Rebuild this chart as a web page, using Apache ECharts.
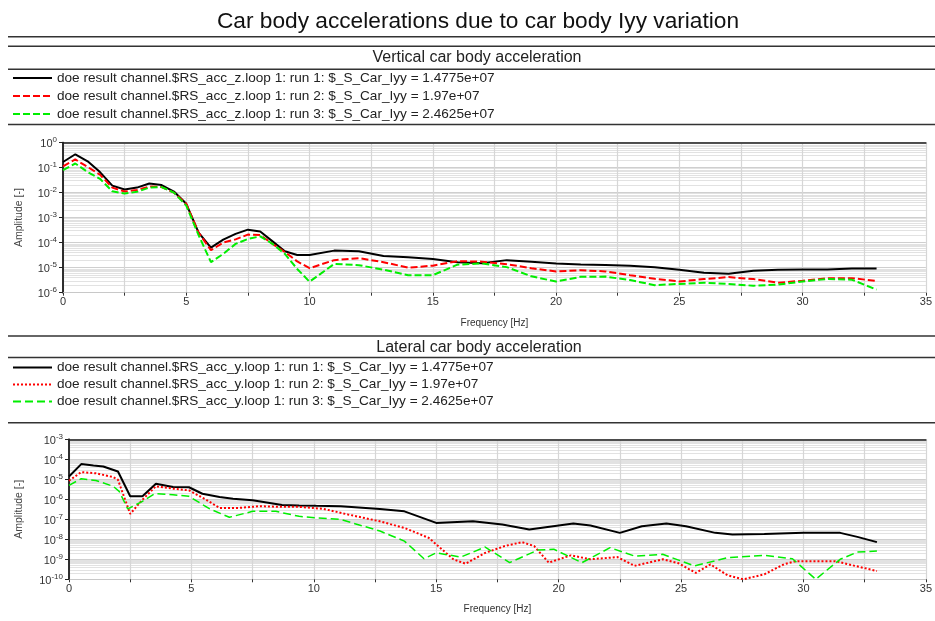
<!DOCTYPE html>
<html>
<head>
<meta charset="utf-8">
<script src="https://cdn.jsdelivr.net/npm/echarts@6/dist/echarts.min.js"></script>
<style>
  html, body { margin: 0; padding: 0; background: #fff; }
  #chart { width: 935px; height: 621px; }
</style>
</head>
<body>
<div id="chart"></div>
<script>
// ---- texts ----
const mainTitle = 'Car body accelerations due to car body Iyy variation';
const vertTitle = 'Vertical car body acceleration';
const latTitle = 'Lateral car body acceleration';
const xName = 'Frequency [Hz]';
const yName = 'Amplitude [-]';

const vertNames = [
  'doe result channel.$RS_acc_z.loop 1: run 1: $_S_Car_Iyy = 1.4775e+07',
  'doe result channel.$RS_acc_z.loop 1: run 2: $_S_Car_Iyy = 1.97e+07',
  'doe result channel.$RS_acc_z.loop 1: run 3: $_S_Car_Iyy = 2.4625e+07'
];
const latNames = [
  'doe result channel.$RS_acc_y.loop 1: run 1: $_S_Car_Iyy = 1.4775e+07',
  'doe result channel.$RS_acc_y.loop 1: run 2: $_S_Car_Iyy = 1.97e+07',
  'doe result channel.$RS_acc_y.loop 1: run 3: $_S_Car_Iyy = 2.4625e+07'
];

// ---- vertical acceleration spectra (shared frequency grid, Hz) ----
const freqVert = [0, 0.5, 1, 1.5, 2, 2.5, 3, 3.5, 4, 4.5, 5, 5.5, 6, 6.5, 7, 7.5, 8, 8.5, 9, 9.5, 10,
  11, 12, 13, 14, 15, 16, 17, 18, 19, 20, 21, 22, 23, 24, 25, 26, 27, 28, 29, 30, 31, 32, 33];
const vertRun1 = [1.66e-1, 3.39e-1, 1.78e-1, 6.6e-2, 1.9e-2, 1.32e-2, 1.58e-2, 2.29e-2, 2.0e-2, 1.1e-2, 3.55e-3,
  2.5e-4, 6.3e-5, 1.32e-4, 2.24e-4, 3.3e-4, 2.8e-4, 1.12e-4, 4.5e-5, 3.2e-5, 3.2e-5,
  4.8e-5, 4.5e-5, 2.95e-5, 2.6e-5, 2.24e-5, 1.66e-5, 1.5e-5, 2.0e-5, 1.74e-5, 1.48e-5, 1.35e-5, 1.29e-5,
  1.2e-5, 1.05e-5, 8.3e-6, 6.3e-6, 5.75e-6, 7.6e-6, 8.3e-6, 8.5e-6, 8.5e-6, 9.3e-6, 9.3e-6];
const vertRun2 = [1.12e-1, 2.1e-1, 1.05e-1, 5.2e-2, 1.58e-2, 1.1e-2, 1.26e-2, 1.74e-2, 1.66e-2, 1.0e-2, 3.55e-3,
  2.5e-4, 5.0e-5, 1.0e-4, 1.35e-4, 2.1e-4, 2.0e-4, 8.9e-5, 4.2e-5, 1.78e-5, 9.5e-6,
  2.0e-5, 2.4e-5, 1.66e-5, 1.0e-5, 1.2e-5, 1.82e-5, 1.74e-5, 1.38e-5, 9.5e-6, 7.1e-6, 7.9e-6, 7.1e-6,
  5.0e-6, 3.6e-6, 2.8e-6, 3.5e-6, 4.2e-6, 3.5e-6, 2.5e-6, 3.0e-6, 3.8e-6, 3.8e-6, 2.95e-6];
const vertRun3 = [7.9e-2, 1.45e-1, 6.6e-2, 3.55e-2, 1.12e-2, 9.1e-3, 1.07e-2, 1.58e-2, 1.66e-2, 1.0e-2, 3.0e-3,
  2.0e-4, 1.66e-5, 3.55e-5, 8.9e-5, 1.41e-4, 1.78e-4, 8.9e-5, 3.55e-5, 8.9e-6, 2.75e-6,
  1.41e-5, 1.26e-5, 8.3e-6, 5.0e-6, 5.0e-6, 1.32e-5, 1.48e-5, 1.05e-5, 4.5e-6, 2.8e-6, 4.3e-6, 4.4e-6,
  3.2e-6, 2.0e-6, 2.24e-6, 2.5e-6, 2.24e-6, 1.9e-6, 2.1e-6, 2.8e-6, 3.55e-6, 3.3e-6, 1.32e-6];

// ---- lateral acceleration spectra (frequency, amplitude per run) ----
const latFreq1 = [0, 0.5, 1, 1.4, 2, 2.5, 3, 3.55, 4.25, 4.9, 5.45, 6.15, 6.7, 7.5, 8.2, 8.7, 9.4, 10.1, 11.1,
  12.7, 13.7, 15, 16.5, 17.7, 18.8, 20.6, 21.3, 22.5, 23.4, 24.4, 25.2, 26.4, 27.1, 28.4, 30, 31.5, 32.2, 33];
const latRun1 = [1.38e-5, 5.75e-5, 4.9e-5, 4.4e-5, 2.45e-5, 1.41e-6, 1.41e-6, 6.0e-6, 4.1e-6, 4.0e-6, 1.9e-6,
  1.29e-6, 1.07e-6, 8.9e-7, 6.6e-7, 5.2e-7, 4.9e-7, 4.7e-7, 4.5e-7, 3.3e-7, 2.5e-7, 6.6e-8, 7.9e-8, 5.5e-8,
  3.1e-8, 6.2e-8, 4.9e-8, 2.1e-8, 4.5e-8, 6.2e-8, 4.5e-8, 2.1e-8, 1.74e-8, 1.86e-8, 2.1e-8, 2.1e-8, 1.32e-8, 7.2e-9];

const latFreq2 = [0, 0.5, 1.1, 1.8, 2, 2.5, 3, 3.55, 4.25, 4.9, 5.6, 6.15, 6.95, 7.75, 8.7, 9.4, 10.4, 11.4,
  12.7, 13.7, 14.7, 15.7, 16.2, 17, 17.8, 18.5, 19, 19.6, 20.5, 21.3, 22.4, 23.1, 24.25, 24.9, 25.6, 26.2,
  26.9, 27.55, 28.4, 29.2, 29.7, 31.3, 32.1, 33];
const latRun2 = [8.5e-6, 2.3e-5, 2.0e-5, 1.29e-5, 9.5e-6, 1.86e-7, 9.5e-7, 4.5e-6, 3.4e-6, 2.8e-6, 9.5e-7,
  3.7e-7, 3.7e-7, 4.5e-7, 4.2e-7, 4.2e-7, 3.3e-7, 1.74e-7, 7.9e-8, 3.7e-8, 1.17e-8, 1.0e-9, 6.0e-10, 2.1e-9,
  4.6e-9, 7.2e-9, 4.6e-9, 6.8e-10, 1.58e-9, 1.0e-9, 1.29e-9, 4.7e-10, 1.0e-9, 6.3e-10, 2.1e-10, 5.6e-10,
  1.58e-10, 1.0e-10, 1.78e-10, 5.6e-10, 8.1e-10, 8.1e-10, 4.7e-10, 2.6e-10];

const latFreq3 = [0, 0.5, 1.1, 1.8, 2.05, 2.4, 3, 3.5, 4.25, 4.9, 5.75, 6.55, 7.5, 8.45, 9.4, 10.1, 11.1,
  12.7, 13.7, 14.5, 15, 16, 17, 18, 19.15, 19.8, 20.95, 22.1, 23.1, 24.25, 25.55, 26.9, 28.4, 29.55, 30.5,
  31.5, 32.2, 33];
const latRun3 = [5.0e-6, 1.07e-5, 8.7e-6, 4.5e-6, 2.5e-6, 3.3e-7, 7.9e-7, 1.9e-6, 1.7e-6, 1.41e-6, 3.3e-7,
  1.26e-7, 2.5e-7, 2.5e-7, 1.41e-7, 1.17e-7, 9.8e-8, 2.6e-8, 8.1e-9, 1.07e-9, 2.1e-9, 1.29e-9, 4.1e-9,
  6.8e-10, 2.9e-9, 3.2e-9, 6.8e-10, 3.8e-9, 1.45e-9, 1.78e-9, 4.7e-10, 1.2e-9, 1.58e-9, 1.07e-9, 1.0e-10,
  1.0e-9, 2.3e-9, 2.6e-9];

// ---- axis ranges ----
const freqMin = 0, freqMax = 35, freqStep = 2.5;
const vertYMin = 1e-6, vertYMax = 1;
const latYMin = 1e-10, latYMax = 1e-3;

const FONT = '"Liberation Sans", Arial, Helvetica, sans-serif';
const pairs = (xs, ys) => xs.map((x, i) => [x, ys[i]]);

function bottomXAxis(gridIndex, nameGap) {
  return {
    type: 'value', gridIndex, min: freqMin, max: freqMax, interval: freqStep,
    name: xName, nameLocation: 'middle', nameGap,
    nameTextStyle: { fontFamily: FONT, fontSize: 10, color: '#333' },
    axisLine: { show: true, lineStyle: { color: '#c8c8c8', width: 1 } },
    axisTick: { show: true, length: 3, lineStyle: { color: '#333' } },
    axisLabel: {
      fontFamily: FONT, fontSize: 11, color: '#333', margin: 4,
      formatter: v => (v % 5 === 0 ? String(v) : '')
    },
    splitLine: { show: true, lineStyle: { color: '#d6d6d6', width: 1.2 } }
  };
}
function frameXAxis(gridIndex) {
  return {
    type: 'value', gridIndex, position: 'top', min: freqMin, max: freqMax,
    axisLine: { show: true, lineStyle: { color: '#222', width: 1.5 } },
    axisTick: { show: false }, axisLabel: { show: false }, splitLine: { show: false }
  };
}
function leftYAxis(gridIndex, min, max, nameGap) {
  return {
    type: 'log', logBase: 10, gridIndex, min, max,
    splitNumber: Math.round(Math.log10(max / min)),
    name: yName, nameLocation: 'middle', nameGap, nameRotate: 90,
    nameTextStyle: { fontFamily: FONT, fontSize: 10.5, color: '#444' },
    axisLine: { show: true, lineStyle: { color: '#222', width: 1.5 } },
    axisTick: { show: true, length: 4, lineStyle: { color: '#222' } },
    axisLabel: {
      showMinLabel: true, showMaxLabel: true, margin: 6,
      formatter: v => '{b|10}{s|' + Math.round(Math.log10(v)) + '}',
      rich: {
        b: { fontFamily: FONT, fontSize: 11, color: '#333', lineHeight: 14, verticalAlign: 'bottom' },
        s: { fontFamily: FONT, fontSize: 8, color: '#333', lineHeight: 14, verticalAlign: 'top' }
      }
    },
    splitLine: { show: true, lineStyle: { color: '#cfcfcf', width: 1.2 } },
    minorTick: { show: false, splitNumber: 9 },
    minorSplitLine: { show: true, lineStyle: { color: '#e2e2e2', width: 1 } }
  };
}
function frameYAxis(gridIndex) {
  return {
    type: 'value', gridIndex, position: 'right', min: 0, max: 1,
    axisLine: { show: true, lineStyle: { color: '#222', width: 1.5 } },
    axisTick: { show: false }, axisLabel: { show: false }, splitLine: { show: false }
  };
}

const blackStyle = { color: '#000000', width: 2, type: 'solid' };
const redDash = { color: '#ff0000', width: 2, type: [7, 3] };
const greenDash = { color: '#00ee00', width: 2, type: [7, 3] };
const redDot = { color: '#ff0000', width: 2, type: [2, 2] };
const greenLong = { color: '#00ee00', width: 1.5, type: [8, 4] };

function lineSeries(name, xIdx, yIdx, data, lineStyle) {
  return {
    name, type: 'line', xAxisIndex: xIdx, yAxisIndex: yIdx, data,
    showSymbol: false, symbol: 'none', smooth: false, clip: true,
    lineStyle, itemStyle: { color: lineStyle.color }, animation: false
  };
}

const rule = (y, w) => ({
  type: 'line', silent: true,
  shape: { x1: 8, y1: y, x2: 935, y2: y },
  style: { stroke: '#333', lineWidth: w }
});

// legend rows: line sample only, no marker
const legendBase = {
  orient: 'vertical', left: 12, padding: 0, itemWidth: 39, itemHeight: 4, itemGap: 4,
  selectedMode: false,
  itemStyle: { opacity: 0 },
  textStyle: { fontFamily: FONT, fontSize: 13.6, color: '#222', lineHeight: 14 }
};

const option = {
  backgroundColor: '#ffffff',
  animation: false,
  title: [
    { text: mainTitle, left: 473, top: 5, textAlign: 'center',
      textStyle: { fontFamily: FONT, fontSize: 22.7, fontWeight: 'normal', color: '#111' } },
    { text: vertTitle, left: 472, top: 45, textAlign: 'center',
      textStyle: { fontFamily: FONT, fontSize: 16, fontWeight: 'normal', color: '#222' } },
    { text: latTitle, left: 474, top: 334.5, textAlign: 'center',
      textStyle: { fontFamily: FONT, fontSize: 16, fontWeight: 'normal', color: '#222' } }
  ],
  legend: [
    Object.assign({}, legendBase, { top: 71, data: vertNames }),
    Object.assign({}, legendBase, { top: 360.5, itemGap: 3, data: latNames })
  ],
  grid: [
    { left: 63, top: 142.5, width: 866.5, height: 150.2, containLabel: false },
    { left: 69, top: 439.3, width: 860.5, height: 140, containLabel: false }
  ],
  xAxis: [bottomXAxis(0, 26), bottomXAxis(1, 25), frameXAxis(0), frameXAxis(1)],
  yAxis: [leftYAxis(0, vertYMin, vertYMax, 38), leftYAxis(1, latYMin, latYMax, 44), frameYAxis(0), frameYAxis(1)],
  series: [
    lineSeries(vertNames[0], 0, 0, pairs(freqVert, vertRun1), blackStyle),
    lineSeries(vertNames[1], 0, 0, pairs(freqVert, vertRun2), redDash),
    lineSeries(vertNames[2], 0, 0, pairs(freqVert, vertRun3), greenDash),
    lineSeries(latNames[0], 1, 1, pairs(latFreq1, latRun1), blackStyle),
    lineSeries(latNames[1], 1, 1, pairs(latFreq2, latRun2), redDot),
    lineSeries(latNames[2], 1, 1, pairs(latFreq3, latRun3), greenLong)
  ],
  graphic: [
    rule(36.8, 1.5), rule(46.3, 1.5), rule(69.2, 1.5), rule(124.4, 1.5),
    rule(336, 1.5), rule(357.5, 1.5), rule(422.8, 1.5)
  ]
};

const chart = echarts.init(document.getElementById('chart'), null, { renderer: 'canvas' });
chart.setOption(option);
</script>
</body>
</html>
